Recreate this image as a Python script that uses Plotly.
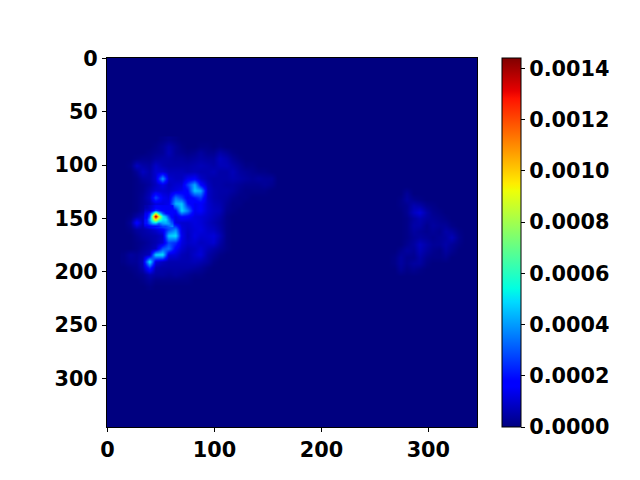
import plotly.graph_objects as go

# density values, in units of 1e-4
left_x = [15, 21, 27, 33, 39, 45, 51, 57, 63, 69, 75, 81, 87, 93, 99, 105, 111, 117, 123, 129, 135, 141, 147, 153, 159]
left_y = [76, 82, 88, 94, 100, 106, 112, 118, 124, 130, 136, 142, 148, 154, 160, 166, 172, 178, 184, 190, 196, 202, 208, 214]
left_z = [
    [0, 0, 0, 0, 0, 0, .1, .2, .1, 0, 0, 0, 0, 0, 0, 0, 0, 0, 0, 0, 0, 0, 0, 0, 0],
    [0, 0, 0, 0, 0, .1, .3, .6, .3, .1, 0, 0, .1, .1, 0, .1, 0, 0, 0, 0, 0, 0, 0, 0, 0],
    [0, 0, 0, 0, .1, .2, .3, .7, .3, .2, .1, .2, .4, .2, .2, .5, .3, .1, 0, 0, 0, 0, 0, 0, 0],
    [0, 0, .1, .2, .2, .4, .5, .5, .4, .4, .3, .4, .5, .4, .4, .8, .6, .3, .1, 0, 0, 0, 0, 0, 0],
    [0, .1, .8, .5, .4, .9, .6, .5, .5, .5, .5, .6, .7, .6, .5, .7, .7, .5, .3, .1, .1, 0, 0, 0, 0],
    [0, 0, .3, .8, .5, 1.0, 1.0, .7, .7, .7, .6, .7, .6, .6, .7, .5, .5, .7, .4, .3, .2, .1, .1, 0, 0],
    [0, 0, .1, .4, .5, 1.0, 4.0, 1.0, .8, .8, 1.4, 1.6, .9, .6, .5, .5, .5, .6, .5, .4, .3, .4, .3, .3, 0],
    [0, 0, .1, .2, .4, .8, 1.3, .8, 1.0, 1.1, 2.6, 4.2, 1.8, .8, .5, .5, .4, .4, .3, .2, .2, .2, .3, .2, 0],
    [0, 0, .1, .2, .6, 1.0, 1.0, .9, 1.2, 1.4, 1.8, 4.6, 4.2, .9, .6, .5, .5, .4, .2, .1, .1, .1, .1, 0, 0],
    [0, 0, .1, .3, .8, 2.8, 1.4, 1.2, 3.4, 2.6, 1.4, 2.0, 2.6, .9, .6, .5, .4, .2, .1, .1, 0, 0, 0, 0, 0],
    [0, 0, .1, .3, .6, 1.2, 1.2, 1.4, 4.4, 4.6, 2.0, 1.4, 1.6, 1.0, .7, .6, .3, .1, .1, 0, 0, 0, 0, 0, 0],
    [0, 0, .1, .4, .7, 1.6, 1.4, 1.2, 1.8, 4.8, 3.6, 1.4, 1.6, 1.0, .8, .7, .2, .1, 0, 0, 0, 0, 0, 0, 0],
    [0, .1, .5, .8, 2.2, 14.4, 5.0, 1.8, 1.2, 1.8, 1.6, 1.2, 1.1, .9, .7, .5, .1, 0, 0, 0, 0, 0, 0, 0, 0],
    [0, .3, 1.8, .8, 3.0, 4.2, 4.2, 3.4, 1.2, 1.0, 1.0, 1.2, 1.1, .8, .6, .4, .1, 0, 0, 0, 0, 0, 0, 0, 0],
    [0, .1, .4, .5, .7, 1.0, 1.6, 2.8, 3.8, 1.2, .9, 1.1, 1.2, .9, .8, .5, .1, 0, 0, 0, 0, 0, 0, 0, 0],
    [0, 0, .2, .4, .5, .6, .9, 4.6, 5.0, 1.4, .8, 1.2, 1.0, 1.0, 1.1, .7, .1, 0, 0, 0, 0, 0, 0, 0, 0],
    [0, 0, .1, .2, .4, .6, 1.0, 2.8, 2.4, 1.2, .9, 1.0, .8, .9, 1.0, .5, .1, 0, 0, 0, 0, 0, 0, 0, 0],
    [0, 0, .1, .3, .5, .8, 3.0, 3.4, 1.6, 1.0, .7, .8, 1.0, .7, .5, .3, .1, 0, 0, 0, 0, 0, 0, 0, 0],
    [.1, .4, .3, .5, .8, 4.8, 5.0, 1.2, 1.1, .7, .6, .9, 1.1, .5, .3, .1, 0, 0, 0, 0, 0, 0, 0, 0, 0],
    [.1, .3, .3, .7, 5.2, 1.2, .8, .6, .6, .6, .6, .7, .6, .4, .1, 0, 0, 0, 0, 0, 0, 0, 0, 0, 0],
    [0, .1, .2, .6, 2.4, .6, .5, .5, .5, .5, .5, .4, .3, .1, 0, 0, 0, 0, 0, 0, 0, 0, 0, 0, 0],
    [0, 0, .1, .2, .6, .4, .4, .3, .4, .3, .2, .1, .1, 0, 0, 0, 0, 0, 0, 0, 0, 0, 0, 0, 0],
    [0, 0, 0, .1, .3, .1, .1, .1, .1, .1, .1, 0, 0, 0, 0, 0, 0, 0, 0, 0, 0, 0, 0, 0, 0],
    [0, 0, 0, 0, .1, 0, 0, 0, 0, 0, 0, 0, 0, 0, 0, 0, 0, 0, 0, 0, 0, 0, 0, 0, 0],
]

# finer readings round the hottest spot
core_x = [36, 39, 42, 45, 48, 51, 54, 57, 60]
core_y = [139, 142, 145, 148, 151, 154, 157]
core_z = [
    [.6, .9, 1.2, 1.6, 1.6, 1.5, 1.5, 1.5, 1.6],
    [.9, 1.0, 1.6, 2.6, 2.2, 1.7, 1.5, 1.5, 1.6],
    [1.4, 2.4, 5.0, 9.0, 5.5, 3.0, 2.0, 1.8, 1.6],
    [1.6, 3.0, 8.5, 14.4, 9.5, 5.2, 4.2, 2.6, 1.6],
    [2.0, 4.0, 7.0, 9.5, 7.0, 5.0, 5.0, 3.4, 2.2],
    [2.0, 3.0, 4.0, 4.2, 3.0, 4.0, 4.2, 4.0, 3.0],
    [1.2, 1.4, 1.4, 1.4, 2.0, 2.6, 2.6, 3.2, 3.8],
]

right_x = [262, 268, 274, 280, 286, 292, 298, 304, 310, 316, 322, 328, 334]
right_y = [120, 126, 132, 138, 144, 150, 156, 162, 168, 174, 180, 186, 192, 198, 204]
right_z = [
    [0, 0, 0, 0, 0, 0, 0, 0, 0, 0, 0, 0, 0],
    [0, 0, 0, .3, 0, 0, 0, 0, 0, 0, 0, 0, 0],
    [0, 0, .1, .4, .2, .1, 0, 0, 0, 0, 0, 0, 0],
    [0, 0, .1, .2, .6, .5, .2, .1, 0, 0, 0, 0, 0],
    [0, 0, 0, .2, .8, 1.1, .5, .2, .1, 0, 0, 0, 0],
    [0, 0, 0, .1, .4, .6, .4, .3, .2, .1, 0, 0, 0],
    [0, 0, 0, .1, .5, .5, .2, .4, .3, .3, .1, 0, 0],
    [0, 0, 0, .1, .4, .3, .2, .3, .2, .5, .4, .1, 0],
    [0, 0, 0, .1, .3, .4, .3, .2, .3, .4, .7, .2, 0],
    [0, 0, 0, .2, .4, .8, .5, .3, .3, .5, .3, .1, 0],
    [0, 0, .2, .4, .3, .7, .4, .2, .1, .4, .2, 0, 0],
    [0, .1, .4, .2, .2, .5, .2, .1, .1, .2, 0, 0, 0],
    [0, .1, .4, .2, .4, .4, .1, 0, 0, 0, 0, 0, 0],
    [0, 0, .3, .1, .2, .1, 0, 0, 0, 0, 0, 0, 0],
    [0, 0, 0, 0, 0, 0, 0, 0, 0, 0, 0, 0, 0],
]

cbar_ticks = [0, 0.0002, 0.0004, 0.0006, 0.0008, 0.0010, 0.0012, 0.0014]
zmax = 0.00144

# matplotlib's jet
jet = [
    [0, "rgb(0,0,128)"], [.11, "rgb(0,0,255)"], [.125, "rgb(0,0,255)"],
    [.34, "rgb(0,219,255)"], [.35, "rgb(0,229,247)"], [.375, "rgb(0,255,226)"],
    [.64, "rgb(238,255,8)"], [.65, "rgb(247,245,0)"], [.66, "rgb(255,236,0)"],
    [.89, "rgb(255,19,0)"], [.91, "rgb(232,0,0)"], [1, "rgb(128,0,0)"],
]


def scaled(rows):
    return [[v * 1e-4 for v in row] for row in rows]


font = dict(family="DejaVu Sans", size=20.8, color="black", weight="bold")

fig = go.Figure()
fig.add_trace(go.Heatmap(
    x=left_x, y=left_y, z=scaled(left_z), zmin=0, zmax=zmax, zsmooth="best", colorscale=jet,
    colorbar=dict(
        x=(502 - 107.3) / 370, xanchor="left", xpad=0, ypad=0, y=0.5, len=1, thickness=19,
        outlinecolor="black", outlinewidth=1, ticks="outside", ticklen=4, tickwidth=1,
        tickcolor="black", tickvals=cbar_ticks, tickformat=".4f", tickfont=font,
    ),
))
fig.add_trace(go.Heatmap(
    x=core_x, y=core_y, z=scaled(core_z), zmin=0, zmax=zmax, zsmooth="best",
    colorscale=jet, showscale=False,
))
fig.add_trace(go.Heatmap(
    x=right_x, y=right_y, z=scaled(right_z), zmin=0, zmax=zmax, zsmooth="best",
    colorscale=jet, showscale=False,
))

axis = dict(
    showgrid=False, zeroline=False, showline=True, mirror=True, linecolor="black", linewidth=1,
    ticks="outside", ticklen=4, tickwidth=1, tickcolor="black", tickfont=font,
)
fig.update_xaxes(range=[-0.5, 345.5], tickvals=[0, 100, 200, 300], **axis)
fig.update_yaxes(range=[345.5, -0.5], tickvals=[0, 50, 100, 150, 200, 250, 300], **axis)
# the page's 8px body margin moves everything, so the figure is 632x472
fig.update_layout(
    width=632, height=472,
    margin=dict(l=99.3, r=162.7, t=49.6, b=52.8, autoexpand=False),
    plot_bgcolor="rgb(0,0,128)", paper_bgcolor="white",
)
fig.write_html("out.html")
